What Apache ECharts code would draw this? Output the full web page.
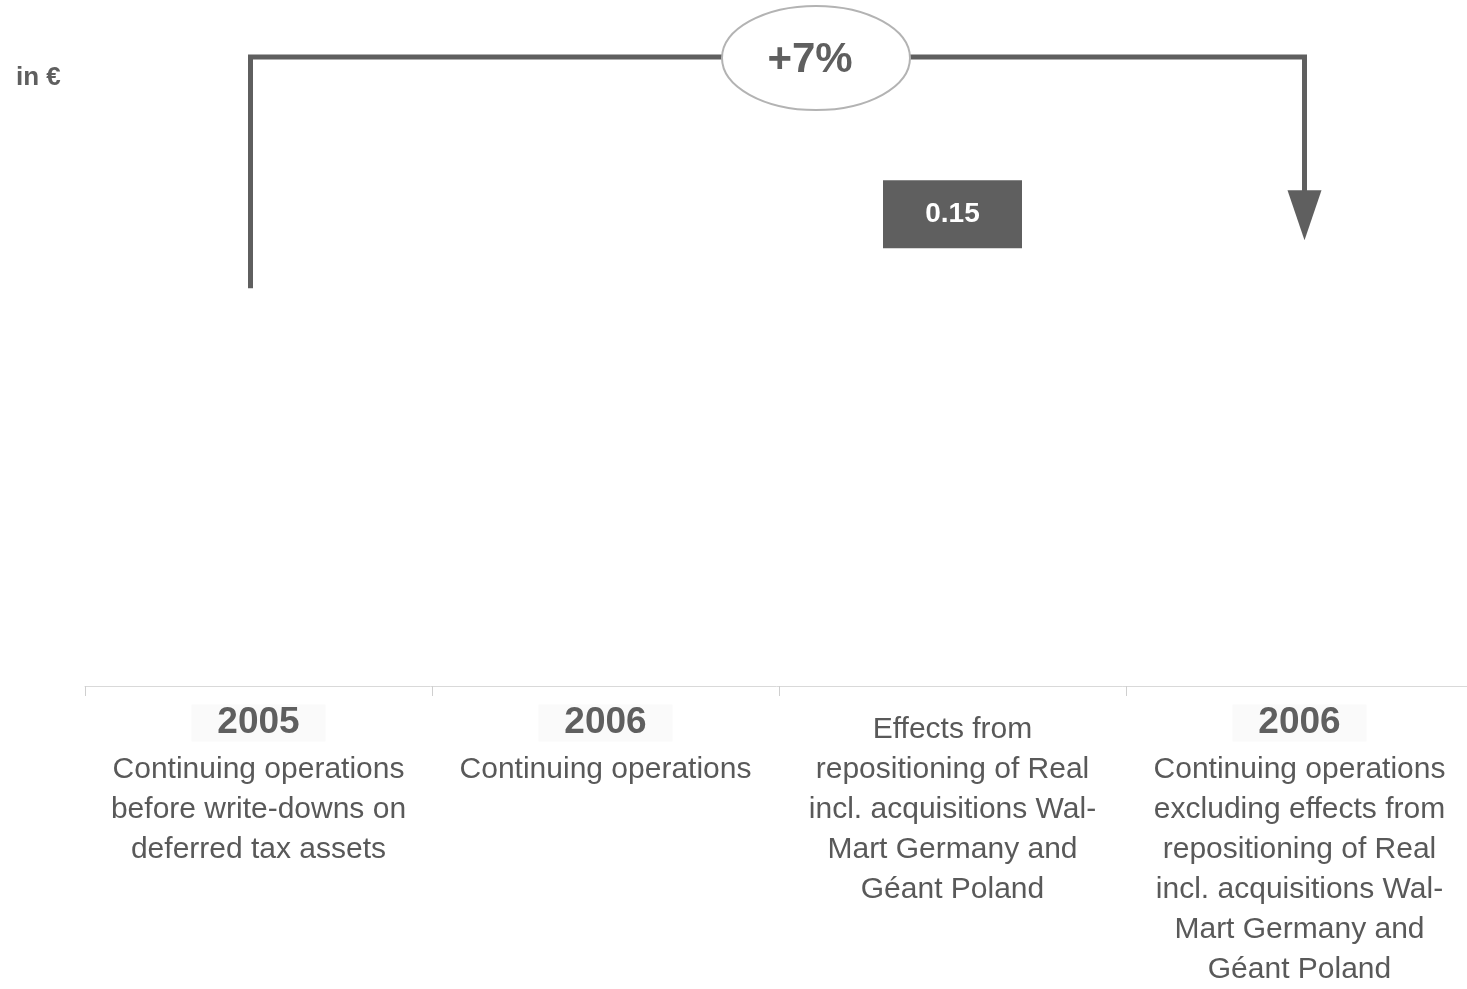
<!DOCTYPE html>
<html>
<head>
<meta charset="utf-8">
<script src="https://cdn.jsdelivr.net/npm/echarts@6/dist/echarts.min.js"></script>
<style>
html,body{margin:0;padding:0;background:#fff;}
#main{width:1467px;height:989px;}
</style>
</head>
<body>
<div id="main"></div>
<script>
// ---- data ----
const categories = ['2005', '2006', 'Effects', '2006 excl.'];
const years = ['2005', '2006', '', '2006'];
const descriptions = [
  ['Continuing operations', 'before write-downs on', 'deferred tax assets'],
  ['Continuing operations'],
  ['Effects from', 'repositioning of Real', 'incl. acquisitions Wal-', 'Mart Germany and', 'Géant Poland'],
  ['Continuing operations', 'excluding effects from', 'repositioning of Real', 'incl. acquisitions Wal-', 'Mart Germany and', 'Géant Poland']
];
const values = [2.89, 2.93, 0.15, 3.08];
const bases = [0, 0, 2.93, 0];
const changeLabel = '+7%';
const unitLabel = 'in €';

const GREY = '#5f5f5f';
const chart = echarts.init(document.getElementById('main'), null, {renderer: 'canvas'});

function fmtLabel(value, idx) {
  const parts = [];
  if (years[idx]) parts.push('{year|' + years[idx] + '}');
  else parts.push('{gap| }');
  descriptions[idx].forEach(d => parts.push('{desc|' + d + '}'));
  return parts.join('\n');
}

chart.setOption({
  backgroundColor: '#ffffff',
  animation: false,
  title: {
    text: unitLabel, left: 11, top: 60,
    textStyle: {fontFamily: 'Liberation Sans', fontSize: 26, fontWeight: 'bold', color: GREY}
  },
  grid: {left: 85, width: 1388, top: 18, bottom: 303, outerBoundsMode: 'none'},
  xAxis: {
    type: 'category', data: categories,
    axisLine: {lineStyle: {color: '#d9d9d9', width: 1}},
    axisTick: {show: true, length: 10, lineStyle: {color: '#cfcfcf'}},
    axisLabel: {
      margin: 10, interval: 0,
      formatter: fmtLabel,
      rich: {
        year: {fontFamily: 'Liberation Sans', fontSize: 37, fontWeight: 'bold', color: GREY, lineHeight: 54,
               backgroundColor: '#fafafa', padding: [0, 26]},
        gap: {fontSize: 4, lineHeight: 14},
        desc: {fontFamily: 'Liberation Sans', fontSize: 30, color: '#595959', lineHeight: 40}
      }
    }
  },
  yAxis: {type: 'value', min: 1.4, max: 3.94, show: false, splitLine: {show: false}},
  series: [
    {type: 'bar', stack: 'w', data: bases, barWidth: 139, itemStyle: {color: 'rgba(255,255,255,0)'}, silent: true},
    {type: 'bar', stack: 'w', barWidth: 139,
     itemStyle: {color: 'rgba(255,255,255,0)'},
     label: {
       show: true, position: 'top', distance: 30,
       formatter: p => p.dataIndex === 2 ? values[2].toFixed(2) : '',
       color: '#ffffff', fontFamily: 'Liberation Sans', fontSize: 28, fontWeight: 'bold'
     },
     data: values.map((v, i) => i === 2 ? {
       value: v,
       label: {backgroundColor: GREY, width: 139, height: 68, lineHeight: 68, align: 'center', verticalAlign: 'middle', padding: 0}
     } : v)
    }
  ]
});

function drawBracket() {
  const p0 = chart.convertToPixel({xAxisIndex: 0, yAxisIndex: 0}, [0, values[0]]);
  const p3 = chart.convertToPixel({xAxisIndex: 0, yAxisIndex: 0}, [3, values[3]]);
  const xL = p0[0] - 8, xR = p3[0] + 5;
  const yTop = 57;
  const yStart = p0[1] - 6;
  const tipY = p3[1] - 4;
  const headH = 50, headW = 34;
  chart.setOption({
    graphic: [
      {type: 'polyline', shape: {points: [[xL, yStart], [xL, yTop], [xR, yTop], [xR, tipY - headH + 2]]},
       style: {stroke: GREY, lineWidth: 5, fill: null}, z: 10},
      {type: 'polygon', shape: {points: [[xR - headW / 2, tipY - headH], [xR + headW / 2, tipY - headH], [xR, tipY]]},
       style: {fill: GREY}, z: 10},
      {type: 'ellipse', shape: {cx: 816, cy: 58, rx: 94, ry: 52},
       style: {fill: '#ffffff', stroke: '#b3b3b3', lineWidth: 2}, z: 11},
      {type: 'text', x: 810, y: 60, z: 12,
       style: {text: changeLabel, fill: GREY, font: 'bold 42px "Liberation Sans"', align: 'center', verticalAlign: 'middle'}}
    ]
  });
}
drawBracket();
</script>
</body>
</html>
